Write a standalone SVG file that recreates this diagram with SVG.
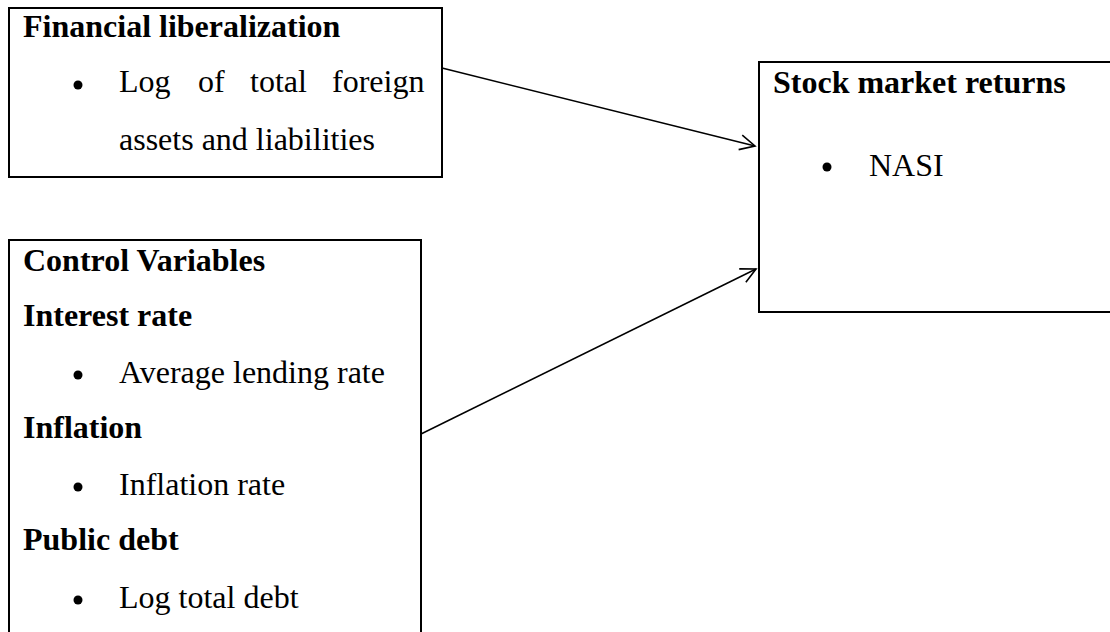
<svg xmlns="http://www.w3.org/2000/svg" width="1110" height="632" viewBox="0 0 1110 632">
<style>
.box{fill:#fff;stroke:#000;stroke-width:2}
.t{font-family:"Liberation Serif","Times New Roman",serif;font-size:32px;fill:#000}
.b{font-weight:bold}
.dot{fill:#000}
.conn{stroke:#000;stroke-width:1.5;fill:none}
</style>
<defs>
<marker id="arr" markerUnits="userSpaceOnUse" markerWidth="20" markerHeight="20" viewBox="-16 -10 18 20" refX="0" refY="0" orient="auto">
<path d="M-15,-7.5 L0,0 L-15,7.5" fill="none" stroke="#000" stroke-width="1.6"/>
</marker>
</defs>
<rect width="1110" height="632" fill="#fff"/>
<g id="node-financial">
<rect class="box" x="9" y="8" width="433" height="169"/>
<text class="t b" x="23" y="37">Financial liberalization</text>
<circle class="dot" cx="78" cy="85" r="4.5"/>
<text class="t" x="119" y="92">Log</text>
<text class="t" x="198" y="92">of</text>
<text class="t" x="250" y="92">total</text>
<text class="t" x="332" y="92">foreign</text>
<text class="t" x="119" y="150">assets and liabilities</text>
</g>
<g id="node-stock">
<rect class="box" x="759" y="62" width="360" height="250"/>
<text class="t b" x="773" y="93">Stock market returns</text>
<circle class="dot" cx="827" cy="167" r="4.5"/>
<text class="t" x="869" y="176">NASI</text>
</g>
<g id="node-control">
<rect class="box" x="9" y="240" width="412" height="420"/>
<text class="t b" x="23" y="271">Control Variables</text>
<text class="t b" x="23" y="326">Interest rate</text>
<circle class="dot" cx="78" cy="375" r="4.5"/>
<text class="t" x="119" y="383">Average lending rate</text>
<text class="t b" x="23" y="438">Inflation</text>
<circle class="dot" cx="78" cy="487" r="4.5"/>
<text class="t" x="119" y="495">Inflation rate</text>
<text class="t b" x="23" y="550">Public debt</text>
<circle class="dot" cx="78" cy="600" r="4.5"/>
<text class="t" x="119" y="608">Log total debt</text>
</g>
<g id="connectors">
<line class="conn" x1="442" y1="68" x2="755" y2="146" marker-end="url(#arr)"/>
<line class="conn" x1="421" y1="434" x2="756" y2="269" marker-end="url(#arr)"/>
</g>
</svg>
